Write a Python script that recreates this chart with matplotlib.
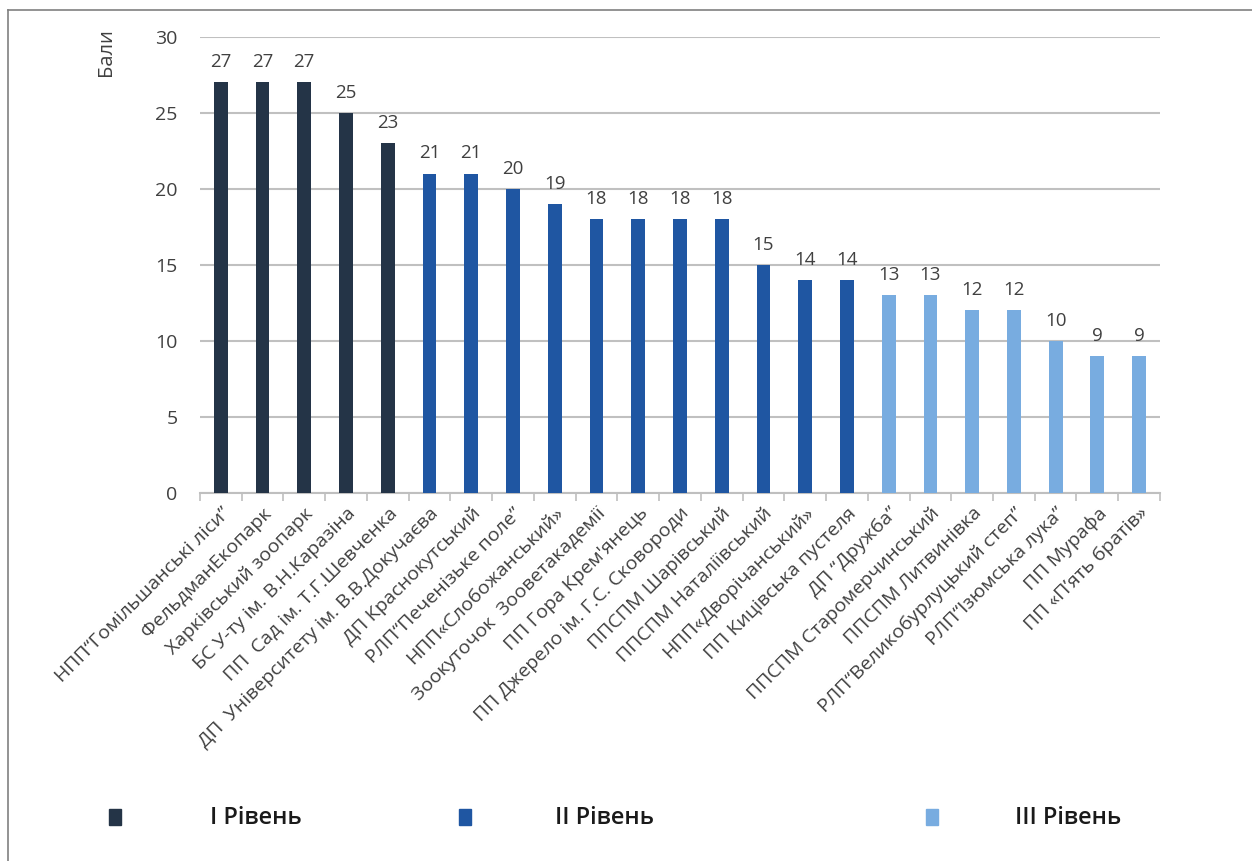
import numpy as np
import matplotlib.pyplot as plt
from matplotlib.lines import Line2D
from matplotlib.patches import Rectangle

plt.rcParams["font.family"] = ["Open Sans", "DejaVu Sans"]

names = [
    "НПП“Гомільшанські ліси”",
    "ФельдманЕкопарк",
    "Харківський зоопарк",
    "БС У-ту ім. В.Н.Каразіна",
    "ПП  Сад ім. Т.Г.Шевченка",
    "ДП  Університету ім. В.В.Докучаєва",
    "ДП Краснокутський",
    "РЛП“Печенізьке поле”",
    "НПП«Слобожанський»",
    "Зоокуточок  Зооветакадемії",
    "ПП Гора Крем'янець",
    "ПП Джерело ім. Г.С. Сковороди",
    "ППСПМ Шарівський",
    "ППСПМ Наталіївський",
    "НПП«Дворічанський»",
    "ПП Кицівська пустеля",
    "ДП “Дружба”",
    "ППСПМ Старомерчинський",
    "ППСПМ Литвинівка",
    "РЛП“Великобурлуцький степ”",
    "РЛП“Ізюмська лука”",
    "ПП Мурафа",
    "ПП «П’ять братів»",
]

scores = [27, 27, 27, 25, 23, 21, 21, 20, 19, 18, 18, 18, 18, 15, 14, 14,
          13, 13, 12, 12, 10, 9, 9]
levels = [1] * 5 + [2] * 11 + [3] * 7

level_names = ["І Рівень", "ІІ Рівень", "ІІІ Рівень"]
level_colors = {1: "#243447", 2: "#1f56a2", 3: "#78ace0"}

fig = plt.figure(figsize=(12.52, 8.61), dpi=100)
ax = fig.add_axes([0.1597, 0.4274, 0.7668, 0.5300])

x = np.arange(len(scores))
colors = [level_colors[lv] for lv in levels]
ax.bar(x, scores, width=0.33, color=colors, zorder=3)

for xi, v in zip(x, scores):
    ax.annotate(str(v), (xi, v), xytext=(0, 8), textcoords="offset points",
                ha="center", va="bottom", fontsize=13.5, color="#404040")

ax.set_xlim(-0.5, len(scores) - 0.5)
ax.set_ylim(0, 30)
ax.set_yticks(range(0, 31, 5))
ax.yaxis.grid(True, color="#c0c0c0", linewidth=1.5, zorder=0)
ax.tick_params(axis="y", length=0, labelsize=14, labelcolor="#404040", pad=16)

# category ticks sit between bars
ax.set_xticks(x)
ax.set_xticklabels(names, rotation=45, ha="right", rotation_mode="anchor",
                   fontsize=14, color="#404040")
ax.tick_params(axis="x", length=0, pad=8)
ax.set_xticks(np.arange(-0.5, len(scores), 1), minor=True)
ax.tick_params(axis="x", which="minor", length=6, color="#bfbfbf", width=1.2)

for side in ["top", "right", "left"]:
    ax.spines[side].set_visible(False)
ax.spines["bottom"].set_color("#bfbfbf")
ax.spines["bottom"].set_linewidth(1.5)

fig.text(106 / 1252, 1 - 28 / 861, "Бали", rotation=90, ha="center", va="top",
         fontsize=14.5, color="#404040")

# legend along the bottom
legend_pos = [(115, 210), (465, 555), (932, 1015)]
for (sq_x, tx_x), name, lv in zip(legend_pos, level_names, [1, 2, 3]):
    fig.patches.append(Rectangle((sq_x / 1252 - 0.005, 1 - 825 / 861), 0.01, 0.019,
                                 transform=fig.transFigure,
                                 color=level_colors[lv]))
    fig.text(tx_x / 1252, 1 - 818 / 861, name, ha="left", va="center",
             fontsize=17, fontweight="semibold", color="#1a1a1a")

# frame lines (left and top)
fig.add_artist(Line2D([8 / 1252, 8 / 1252], [0, 1 - 10 / 861],
                      transform=fig.transFigure, color="#808080", lw=1.2))
fig.add_artist(Line2D([8 / 1252, 1], [1 - 10 / 861, 1 - 10 / 861],
                      transform=fig.transFigure, color="#808080", lw=1.2))

fig.savefig("out.png", dpi=100)
